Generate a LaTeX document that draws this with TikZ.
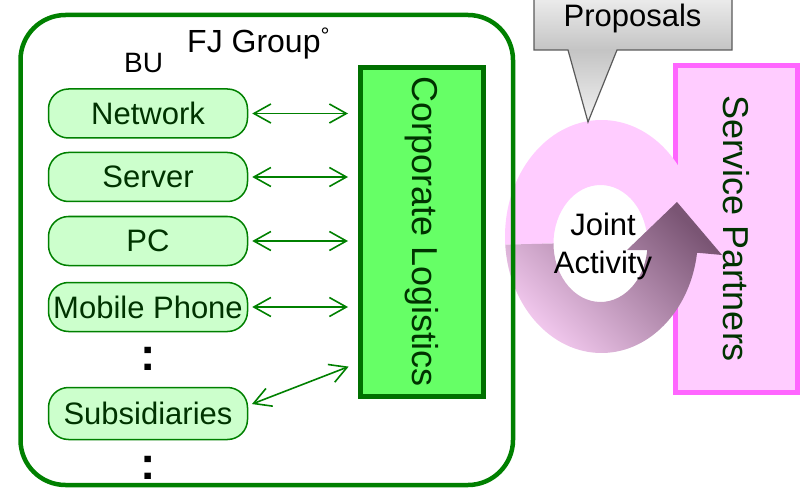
\documentclass[tikz,border=0pt]{standalone}
\usepackage{fontspec}
\setmainfont{Liberation Sans}
\usetikzlibrary{arrows.meta,calc}

\definecolor{fjgreen}{HTML}{008000}
\definecolor{bufill}{HTML}{CCFFCC}
\definecolor{clfill}{HTML}{66FF66}
\definecolor{cledge}{HTML}{007000}
\definecolor{darktext}{HTML}{003300}
\definecolor{spfill}{HTML}{FFCCFF}
\definecolor{spedge}{HTML}{FF66FF}
\definecolor{ringlight}{HTML}{F6CCF2}
\definecolor{ringdark}{HTML}{7A5574}
\definecolor{callgray}{HTML}{C4C4C4}
\definecolor{calllight}{HTML}{F2F2F2}
\definecolor{calledge}{HTML}{5A5A5A}

\tikzset{
  bu/.style={draw=fjgreen, fill=bufill, line width=1.5pt, rounded corners=20pt,
    minimum width=199pt, minimum height=49pt, inner sep=0pt, text=darktext,
    font=\fontsize{31}{37}\selectfont},
  link/.style={draw=fjgreen, line width=1.6pt, >={Straight Barb[length=17pt,width=19pt]}, <->,
    shorten <=4pt, shorten >=10pt},
  vtext/.style={rotate=-90, text=darktext, inner sep=0pt, font=\fontsize{36}{43}\selectfont},
  plain/.style={inner sep=0pt, font=\fontsize{31}{38}\selectfont},
  dots/.style={inner sep=0pt, font=\fontsize{46}{50}\selectfont\bfseries}
}

\begin{document}
\begin{tikzpicture}[x=1pt, y=1pt]
\useasboundingbox (0,0) rectangle (800,488);
\clip (0,0) rectangle (800,488);

% service partners
\node[draw=spedge, fill=spfill, line width=5pt, minimum width=122pt, minimum height=327pt,
      inner sep=0pt] (sp) at (736.5,259) {};

% ring, upper half
\fill[spfill] (601.5,251.5) ++(184:96.5 and 116.5)
   arc[start angle=184, end angle=18, x radius=96.5, y radius=116.5]
   -- (647.5,244.5) arc[start angle=0, end angle=180, x radius=47, y radius=58.5] -- cycle;
% ring, lower half and head
\shade[left color=ringlight, right color=ringdark, shading angle=135]
   (601.5,251.5) ++(184:96.5 and 116.5)
   arc[start angle=184, end angle=352, x radius=96.5, y radius=116.5]
   -- (722,233) -- (677,286) -- (627,238) -- (647.2,238)
   arc[start angle=353.6, end angle=180, x radius=47, y radius=58.5] -- cycle;

% callout
\shade[top color=calllight, bottom color=callgray] (534,438) rectangle (732,498);
\shade[top color=callgray, bottom color=calllight] (568,438) -- (617,438) -- (588,366) -- cycle;
\draw[calledge, line width=1.2pt, line join=miter]
   (568,438) -- (534,438) -- (534,498) -- (732,498) -- (732,438) -- (617,438) -- (588,366) -- cycle;
\node[plain, anchor=base] (prop) at (632.5,461) {Proposals};

% FJ group
\draw[fjgreen, line width=4.5pt, rounded corners=45pt] (20.5,3) rectangle (513,473);
\node[plain, anchor=base west, font=\fontsize{32}{38}\selectfont] (fj) at (187,435)
   {FJ Group\textsuperscript{\textdegree}};
\node[plain, anchor=base west, font=\fontsize{28}{33}\selectfont] (bu) at (124,415) {BU};

\node[draw=cledge, fill=clfill, line width=5pt, minimum width=123pt, minimum height=329pt,
      inner sep=0pt] (cl) at (422,256) {};
\node[vtext] (cltext) at (cl.center) {Corporate Logistics};

\node[bu] (net) at (148,374.5) {Network};
\node[bu] (srv) at (148,311)   {Server};
\node[bu] (pc)  at (148,247)   {PC};
\node[bu] (mob) at (148,181)   {Mobile Phone};
\node[bu, minimum height=52pt] (sub) at (148,74.5) {Subsidiaries};
\node[dots] (dotsa) at (148,129) {:};
\node[dots] (dotsb) at (148,20)  {:};

% links
\draw[link] (net.east) -- (net.east -| cl.west);
\draw[link] (srv.east) -- (srv.east -| cl.west);
\draw[link] (pc.east)  -- (pc.east -| cl.west);
\draw[link] (mob.east) -- (mob.east -| cl.west);
\draw[link] ([yshift=8pt]sub.east) -- ([yshift=36pt]cl.south west);

% labels on top
\node[plain, align=center] (joint) at (603,242) {Joint\\Activity};
\node[vtext] (sptext) at (sp.center) {Service Partners};

\end{tikzpicture}
\end{document}
